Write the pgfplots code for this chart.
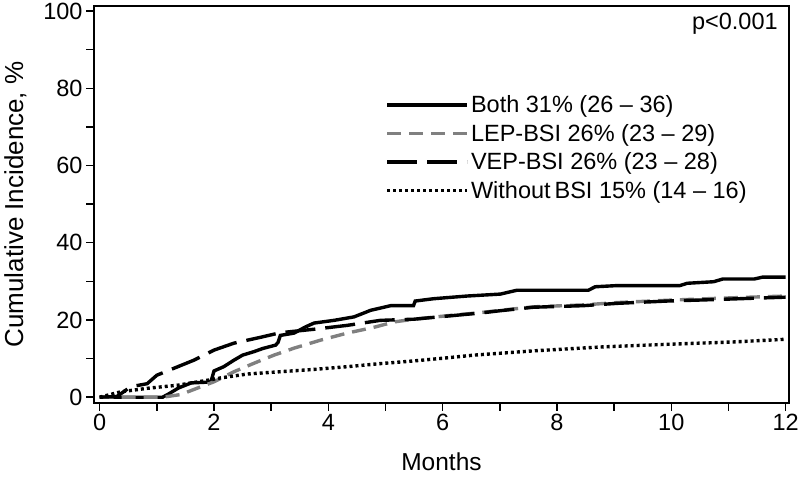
\documentclass[border=0pt]{standalone}
\usepackage{pgfplots}
\pgfplotsset{compat=1.18}
\usepackage{fontspec}
\setmainfont{Liberation Sans}
\definecolor{lepgray}{RGB}{128,128,128}
\begin{document}
\begin{tikzpicture}
\useasboundingbox (-94pt,-75pt) rectangle (706pt,403pt);
\begin{axis}[
  at={(0,0)}, anchor=south west,
  scale only axis, width=695pt, height=397pt,
  xmin=-0.1, xmax=12.06, ymin=-1.5, ymax=101.3,
  xtick={0,2,...,12}, minor xtick={1,3,...,11},
  ytick={0,20,...,100}, minor ytick={10,30,...,90},
  tick pos=left, tick align=outside,
  major tick length=8pt, minor tick length=8pt,
  every tick/.style={black, line width=1.5pt},
  axis line style={line width=1.7pt},
  /pgf/number format/assume math mode=true,
  tick label style={font=\fontsize{23.5}{27}\selectfont},
  xlabel={Months}, ylabel={Cumulative Incidence, \%},
  xlabel style={yshift=-15pt, font=\fontsize{24.5}{28}\selectfont},
  ylabel style={yshift=10pt, font=\fontsize{26}{30}\selectfont},
  legend style={draw=none, fill=none, at={(0.415,0.785)}, anchor=north west,
    font=\fontsize{23.5}{27}\selectfont, row sep=6pt},
  legend cell align=left,
  legend image code/.code={\draw[#1] (0pt,0pt) -- (80pt,0pt);},
]
\addplot[black, line width=3.4pt] table {
0 0
1.1 0
1.2 0.8
1.38 2.4
1.6 3.7
1.89 3.9
1.95 4.2
2.0 6.8
2.17 7.9
2.35 9.6
2.5 10.9
2.7 11.8
2.85 12.6
3.08 13.5
3.12 14.2
3.16 16.0
3.4 16.6
3.6 18.2
3.75 19.2
4.1 19.9
4.45 20.8
4.74 22.5
5.09 23.7
5.49 23.7
5.52 24.9
5.84 25.5
6.43 26.2
7.01 26.7
7.3 27.7
8.55 27.7
8.67 28.6
9.05 28.9
10.15 28.9
10.28 29.5
10.74 29.9
10.9 30.6
11.45 30.6
11.6 31.1
12 31.1
};
\addlegendentry{Both 31\% (26 – 36)}
\addplot[lepgray, line width=3.4pt, dash pattern=on 14pt off 8pt] table {
0 0
1.1 0
1.42 0.7
1.77 2.7
2.0 4.0
2.35 6.6
2.7 8.8
3.05 10.9
3.4 12.7
3.87 14.8
4.33 16.6
4.8 18.1
5.15 19.5
5.5 20.2
6.08 21.1
6.66 21.9
7.01 22.5
7.59 23.4
8.46 23.9
9.05 24.5
9.93 25.1
10.8 25.6
11.38 25.9
12 26.2
};
\addlegendentry{LEP-BSI 26\% (23 – 29)}
\addplot[black, line width=3.4pt, dash pattern=on 30pt off 10pt] table {
0 0
0.3 0.2
0.37 0.9
0.54 2.7
0.83 3.5
1.0 5.7
1.3 7.5
1.65 9.6
2.0 12.2
2.35 14.0
2.81 15.5
3.16 16.7
3.75 17.6
4.33 18.6
4.91 19.9
5.5 20.2
6.08 21.0
6.66 21.8
7.01 22.4
7.59 23.3
8.46 23.7
9.05 24.3
9.93 24.9
10.8 25.3
11.38 25.6
12 25.9
};
\addlegendentry{VEP-BSI 26\% (23 – 28)}
\addplot[black, line width=3.4pt, dash pattern=on 3pt off 3pt] table {
0 0
0.37 1.4
0.83 2.3
1.36 3.1
1.89 4.4
2.12 5.0
2.58 6.0
3.16 6.6
3.75 7.2
4.33 7.9
4.91 8.7
5.5 9.4
6.08 10.2
6.55 10.9
7.59 12.0
8.76 13.0
9.93 13.7
11.08 14.3
12 15.0
};
\addlegendentry{Without\,BSI 15\% (14 – 16)}
\node[anchor=north east, inner sep=0pt, font=\fontsize{23.5}{27}\selectfont]
  at (rel axis cs:0.984,0.982) {p<0.001};
\end{axis}
\end{tikzpicture}
\end{document}
